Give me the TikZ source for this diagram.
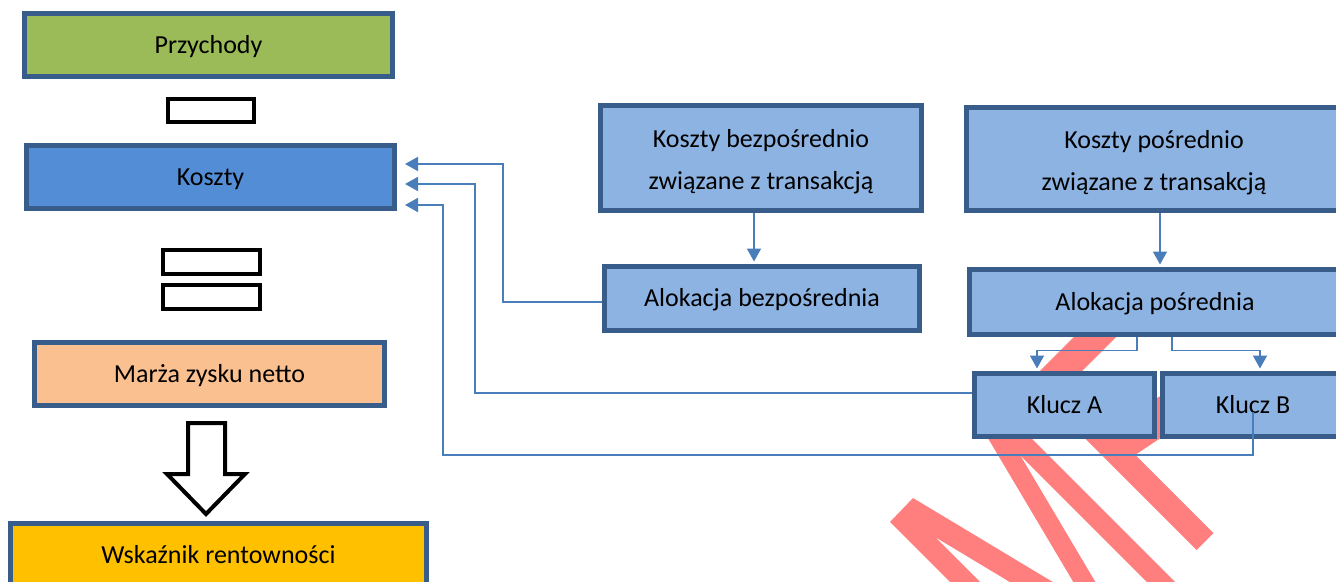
\documentclass[tikz,border=0pt]{standalone}
\usepackage{fontspec}
\setmainfont{Carlito}
\usetikzlibrary{arrows.meta,calc}
\definecolor{bord}{HTML}{385D8A}
\definecolor{cgreen}{HTML}{9BBB59}
\definecolor{cblue}{HTML}{538DD5}
\definecolor{clight}{HTML}{8DB3E2}
\definecolor{cpeach}{HTML}{FAC090}
\definecolor{cgold}{HTML}{FFC000}
\definecolor{conn}{HTML}{4A7EBB}
\definecolor{wm}{HTML}{FF7F7F}
\tikzset{
  box/.style={draw=bord, line width=5pt, inner sep=0pt, text=black,
    font=\fontsize{26}{42}\selectfont, text height=19pt, text depth=3pt},
  tbox/.style={draw=bord, line width=5pt, inner sep=0pt, text=black, fill=clight,
    font=\fontsize{26}{42}\selectfont, align=center},
  sign/.style={draw=black, line width=4pt, fill=white, inner sep=0pt},
  link/.style={draw=conn, line width=1.8pt},
  arr/.style={link, -{Triangle[length=13pt,width=14pt]}},
}
\begin{document}
\begin{tikzpicture}[x=1pt,y=-1pt]
\useasboundingbox (0,0) rectangle (1336,581);
\clip (0,0) rectangle (1336,581);
\fill[white] (0,0) rectangle (1336,581);
% watermark
\fill[wm] (890,522) -- (913,498) -- (1116,620) -- (1073,620) -- (935,537) -- (1018,620) -- (988,620) -- cycle;
\draw[wm, line width=30pt] (1125,307) -- (1030,402);
\draw[wm, line width=24pt] (1050,386.5) -- (1205,541.5);
\draw[wm, line width=19pt] (990,423) -- (1101,610);
\draw[wm, line width=20pt] (1000,421) -- (1201,622);
\fill[wm] (1100,430) -- (1135,455) -- (1180,425) -- (1180,385) -- cycle;
% left column
\node[box, fill=cgreen, minimum width=368pt, minimum height=63pt] (P) at (208.5,45) {Przychody};
\node[sign, minimum width=86pt, minimum height=23pt] (minus) at (211,110.5) {};
\node[box, fill=cblue, minimum width=368pt, minimum height=63pt] (K) at (210.5,177) {Koszty};
\node[sign, minimum width=97pt, minimum height=24pt] (eqa) at (211.5,262) {};
\node[sign, minimum width=97pt, minimum height=24pt] (eqb) at (211.5,297) {};
\node[box, fill=cpeach, minimum width=350pt, minimum height=63pt] (M) at (209.5,374) {Marża zysku netto};
\node[box, fill=cgold, minimum width=416pt, minimum height=63pt] (W) at (218.5,555) {Wskaźnik rentowności};
\draw[line width=4pt, fill=white, line join=miter] (188,423) -- (225,423) -- (225,474) -- (245,474) -- (206,514) -- (167,474) -- (188,474) -- cycle;
% right part
\node[tbox, minimum width=321pt, minimum height=105pt] (kbez) at (761,158) {\rule{0pt}{25pt}Koszty bezpośrednio\\związane z transakcją};
\node[box, fill=clight, minimum width=315pt, minimum height=64pt] (abez) at (762,298.5) {Alokacja bezpośrednia};
\node[tbox, minimum width=375pt, minimum height=103pt] (kpos) at (1154,159) {\rule{0pt}{25pt}Koszty pośrednio\\związane z transakcją};
\node[box, fill=clight, minimum width=371pt, minimum height=65pt] (apos) at (1155,302) {Alokacja pośrednia};
\node[box, fill=clight, minimum width=180pt, minimum height=63pt] (kla) at (1064.5,405) {Klucz A};
\node[box, fill=clight, minimum width=181pt, minimum height=63pt] (klb) at (1253,405) {Klucz B};
\coordinate (kbin) at ([yshift=-7pt]klb.center);
% connectors
\draw[arr, shorten >=2.5pt] ([xshift=-7pt]kbez.south) -- ([xshift=-8pt]abez.north);
\draw[arr, shorten >=2.5pt] ([xshift=6pt]kpos.south) -- ([xshift=5pt]apos.north);
\draw[arr, shorten >=8pt] ([yshift=-3.5pt]abez.west) -| (503,164) -- ([yshift=13pt]K.east);
\draw[arr, shorten >=8pt] ([yshift=12pt]kla.west) -| (475,184) -- ([yshift=-7pt]K.east);
\draw[arr, shorten >=8pt] (kbin) -- (1253,455) -| (443,205) -- ([yshift=-28pt]K.east);
\draw[arr, shorten >=2.5pt] ([xshift=-18pt]apos.south) -- ++(0,13.5) -| ([xshift=-27.5pt]kla.north);
\draw[arr, shorten >=2.5pt] ([xshift=17pt]apos.south) -- ++(0,13.5) -| ([xshift=7pt]klb.north);
\end{tikzpicture}
\end{document}
